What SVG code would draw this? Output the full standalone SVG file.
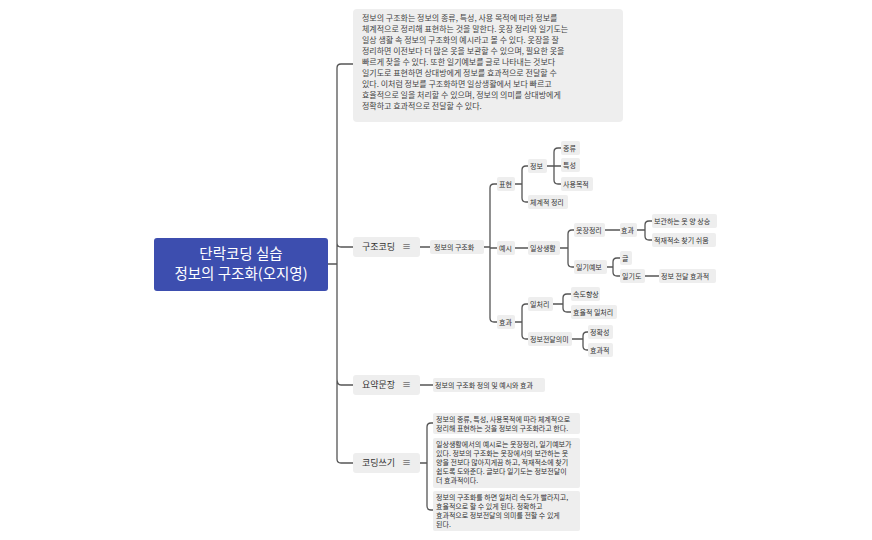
<svg xmlns="http://www.w3.org/2000/svg" width="872" height="540" viewBox="0 0 872 540">
<style>
.b{fill:#eeeeee}
.t{font-family:"Noto Sans CJK KR","Noto Sans",sans-serif;font-size:7px;fill:#333}
.m{font-family:"Noto Sans CJK KR","Noto Sans",sans-serif;font-size:9px;fill:#333}
.p{font-family:"Noto Sans CJK KR","Noto Sans",sans-serif;font-size:8px;fill:#444}
.c{fill:none;stroke:#555;stroke-width:1.3}
</style>
<rect width="872" height="540" fill="#fff"/>
<g id="connectors" class="c">
<path d="M328 264H337M337 264V68Q337 64 341 64H353M337 264V243Q337 247 341 247H353M337 264V379Q337 385 341 385H353M337 264V459Q337 463 341 463H353"/>
<path d="M420 247H430M484 247H490M490 247V188Q490 184 494 184H497M490 248H497M490 247V318Q490 322 494 322H497"/>
<path d="M515 184H522M522 184V170Q522 166 526 166H528M522 184V198Q522 202 526 202H528"/>
<path d="M547 166H561M554 166V152Q554 148 558 148H561M554 166V180Q554 184 558 184H561"/>
<path d="M515 248H528M560 248H568M568 248V234Q568 230 572 230H574M568 248V263Q568 267 572 267H574"/>
<path d="M605 230H620M637 230H645M645 230V225Q645 221 649 221H652M645 230V236Q645 240 649 240H652"/>
<path d="M607 267H613M613 267V262Q613 258 617 258H620M613 267V272Q613 276 617 276H620M645 276H659"/>
<path d="M515 322H522M522 322V308Q522 304 526 304H528M522 322V335Q522 339 526 339H528"/>
<path d="M553 304H563M563 304V298Q563 294 567 294H571M563 304V308Q563 312 567 312H571"/>
<path d="M572 339H583M583 339V336Q583 332 587 332H588M583 339V346Q583 350 587 350H588"/>
<path d="M420 385H433M420 463H427M427 463V427Q427 423 431 423H433M427 463V506Q427 510 431 510H433"/>
</g>
<g id="root"><rect x="154" y="238" width="174" height="53" rx="3" fill="#3d4eaf"/>
<text x="241" y="259" text-anchor="middle" font-family="Noto Sans CJK KR,sans-serif" font-size="14.5" fill="#fff">단락코딩 실습</text>
<text x="241" y="279" text-anchor="middle" font-family="Noto Sans CJK KR,sans-serif" font-size="14.5" fill="#fff">정보의 구조화(오지영)</text></g>
<g id="summary"><rect class="b" x="353" y="9" width="270" height="113" rx="4"/>
<text class="p"><tspan x="362" y="21">정보의 구조화는 정보의 종류, 특성, 사용 목적에 따라 정보를</tspan><tspan x="362" y="32">체계적으로 정리해 표현하는 것을 말한다. 옷장 정리와 일기도는</tspan><tspan x="362" y="43">일상 생활 속 정보의 구조화의 예시라고 볼 수 있다. 옷장을 잘</tspan><tspan x="362" y="54">정리하면 이전보다 더 많은 옷을 보관할 수 있으며, 필요한 옷을</tspan><tspan x="362" y="65">빠르게 찾을 수 있다. 또한 일기예보를 글로 나타내는 것보다</tspan><tspan x="362" y="76">일기도로 표현하면 상대방에게 정보를 효과적으로 전달할 수</tspan><tspan x="362" y="87">있다. 이처럼 정보를 구조화하면 일상생활에서 보다 빠르고</tspan><tspan x="362" y="98">효율적으로 일을 처리할 수 있으며, 정보의 의미를 상대방에게</tspan><tspan x="362" y="109">정확하고 효과적으로 전달할 수 있다.</tspan></text></g>
<g id="n-gujo"><rect class="b" x="353" y="237" width="67" height="20" rx="3"/><text class="m" x="362" y="250">구조코딩</text><text class="m" x="402" y="250">≡</text></g>
<g id="n-yoyak"><rect class="b" x="353" y="375" width="67" height="20" rx="3"/><text class="m" x="362" y="388">요약문장</text><text class="m" x="402" y="388">≡</text></g>
<g id="n-coding"><rect class="b" x="353" y="453" width="67" height="20" rx="3"/><text class="m" x="362" y="466">코딩쓰기</text><text class="m" x="402" y="466">≡</text></g>
<g id="n1"><rect class="b" x="430" y="240" width="54" height="14" rx="2"/><text class="t" x="434" y="250">정보의 구조화</text></g>
<g id="n2"><rect class="b" x="497" y="177" width="18" height="14" rx="2"/><text class="t" x="499" y="187">표현</text></g>
<g id="n3"><rect class="b" x="497" y="241" width="18" height="14" rx="2"/><text class="t" x="499" y="251">예시</text></g>
<g id="n4"><rect class="b" x="497" y="315" width="18" height="14" rx="2"/><text class="t" x="499" y="325">효과</text></g>
<g id="n5"><rect class="b" x="528" y="159" width="19" height="14" rx="2"/><text class="t" x="530" y="169">정보</text></g>
<g id="n6"><rect class="b" x="528" y="195" width="40" height="14" rx="2"/><text class="t" x="530" y="205">체계적 정리</text></g>
<g id="n7"><rect class="b" x="561" y="141" width="19" height="14" rx="2"/><text class="t" x="563" y="151">종류</text></g>
<g id="n8"><rect class="b" x="561" y="158" width="19" height="14" rx="2"/><text class="t" x="563" y="168">특성</text></g>
<g id="n9"><rect class="b" x="561" y="177" width="32" height="14" rx="2"/><text class="t" x="563" y="187">사용목적</text></g>
<g id="n10"><rect class="b" x="528" y="241" width="32" height="14" rx="2"/><text class="t" x="530" y="251">일상생활</text></g>
<g id="n11"><rect class="b" x="574" y="223" width="31" height="14" rx="2"/><text class="t" x="576" y="233">옷장정리</text></g>
<g id="n12"><rect class="b" x="574" y="260" width="33" height="14" rx="2"/><text class="t" x="576" y="270">일기예보</text></g>
<g id="n13"><rect class="b" x="620" y="223" width="17" height="14" rx="2"/><text class="t" x="621" y="233">효과</text></g>
<g id="n14"><rect class="b" x="652" y="214" width="65" height="14" rx="2"/><text class="t" x="654" y="224">보관하는 옷 양 상승</text></g>
<g id="n15"><rect class="b" x="652" y="233" width="64" height="14" rx="2"/><text class="t" x="654" y="243">적재적소 찾기 쉬움</text></g>
<g id="n16"><rect class="b" x="620" y="251" width="12" height="14" rx="2"/><text class="t" x="622" y="261">글</text></g>
<g id="n17"><rect class="b" x="620" y="269" width="25" height="14" rx="2"/><text class="t" x="622" y="279">일기도</text></g>
<g id="n18"><rect class="b" x="659" y="269" width="57" height="14" rx="2"/><text class="t" x="661" y="279">정보 전달 효과적</text></g>
<g id="n19"><rect class="b" x="528" y="297" width="25" height="14" rx="2"/><text class="t" x="530" y="307">일처리</text></g>
<g id="n20"><rect class="b" x="528" y="332" width="44" height="14" rx="2"/><text class="t" x="530" y="342">정보전달의미</text></g>
<g id="n21"><rect class="b" x="571" y="287" width="29" height="14" rx="2"/><text class="t" x="573" y="297">속도향상</text></g>
<g id="n22"><rect class="b" x="571" y="305" width="46" height="14" rx="2"/><text class="t" x="573" y="315">효율적 일처리</text></g>
<g id="n23"><rect class="b" x="588" y="325" width="25" height="14" rx="2"/><text class="t" x="590" y="335">정확성</text></g>
<g id="n24"><rect class="b" x="588" y="343" width="25" height="14" rx="2"/><text class="t" x="590" y="353">효과적</text></g>
<g id="n25"><rect class="b" x="433" y="378" width="112" height="14" rx="2"/><text class="t" x="435" y="388">정보의 구조화 정의 및 예시와 효과</text></g>
<g id="n26"><rect class="b" x="433" y="413" width="147" height="21" rx="2"/><text class="t"><tspan x="436" y="422">정보의 종류, 특성, 사용목적에 따라 체계적으로</tspan><tspan x="436" y="431">정리해 표현하는 것을 정보의 구조화라고 한다.</tspan></text></g>
<g id="n27"><rect class="b" x="433" y="438" width="147" height="50" rx="2"/><text class="t"><tspan x="436" y="447">일상생활에서의 예시로는 옷장정리, 일기예보가</tspan><tspan x="436" y="456">있다. 정보의 구조화는 옷장에서의 보관하는 옷</tspan><tspan x="436" y="465">양을 전보다 많아지게끔 하고, 적재적소에 찾기</tspan><tspan x="436" y="474">쉽도록 도와준다. 글보다 일기도는 정보전달이</tspan><tspan x="436" y="483">더 효과적이다.</tspan></text></g>
<g id="n28"><rect class="b" x="433" y="491" width="147" height="40" rx="2"/><text class="t"><tspan x="436" y="500">정보의 구조화를 하면 일처리 속도가 빨라지고,</tspan><tspan x="436" y="509">효율적으로 할 수 있게 된다. 정확하고</tspan><tspan x="436" y="518">효과적으로 정보전달의 의미를 전할 수 있게</tspan><tspan x="436" y="527">된다.</tspan></text></g>
</svg>
